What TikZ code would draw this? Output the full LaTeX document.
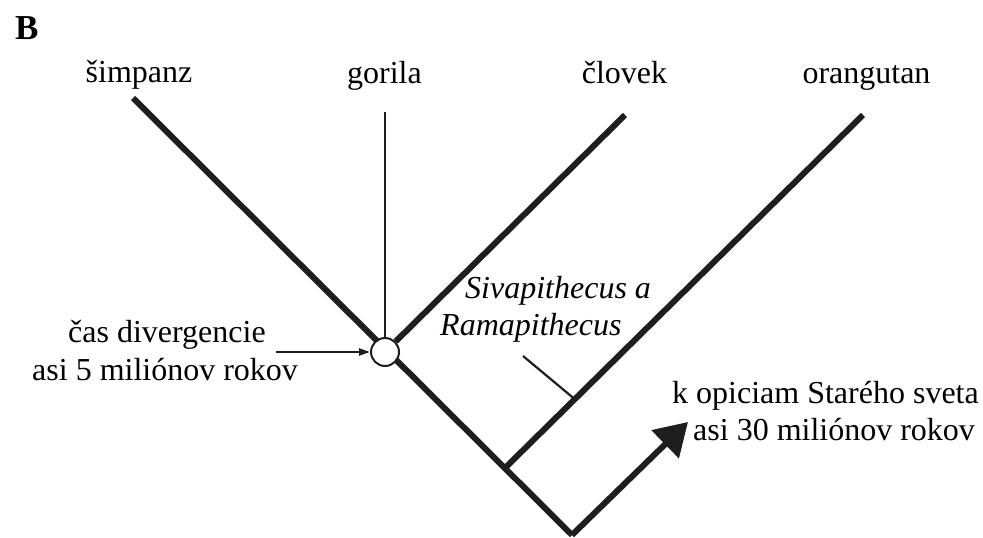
\documentclass[tikz,border=0pt]{standalone}
\usepackage{fontspec}
\setmainfont{Liberation Serif}
\usetikzlibrary{arrows.meta,calc}
\definecolor{ink}{HTML}{1E1E1E}
\tikzset{
  thick line/.style={line width=6pt, draw=ink, line cap=butt},
  thin line/.style={line width=2.2pt, draw=ink},
  lbl/.style={inner sep=0pt, anchor=base, font=\fontsize{32}{38}\selectfont},
  lblw/.style={inner sep=0pt, anchor=base west, font=\fontsize{32}{38}\selectfont},
  ilbl/.style={inner sep=0pt, anchor=base west, font=\fontsize{32}{38}\selectfont\itshape},
}
\begin{document}
\begin{tikzpicture}[x=1pt,y=-1pt]
\useasboundingbox (0,0) rectangle (983,538);
% labels
\node[inner sep=0pt, anchor=base west, font=\fontsize{35}{38}\selectfont\bfseries] (B) at (15,39) {B};
\node[lbl] (sim) at (139,82) {šimpanz};
\node[lbl] (gor) at (384.5,83) {gorila};
\node[lbl] (clo) at (624.5,83) {človek};
\node[lbl] (ora) at (866.5,83) {orangutan};
\node[lblw] (cas1) at (68,342) {čas divergencie};
\node[lblw] (cas2) at (32,380) {asi 5 miliónov rokov};
\node[ilbl] (siv1) at (465,298) {Sivapithecus a};
\node[ilbl] (siv2) at (440,335) {Ramapithecus};
\node[lblw] (opi1) at (672,403) {k opiciam Starého sveta};
\node[lblw] (opi2) at (693,440) {asi 30 miliónov rokov};
% coordinates
\coordinate (simTop) at (133,98);
\coordinate (bot) at (572,535);
\coordinate (gorTop) at (385,112);
\coordinate (cloTop) at (625,115);
\coordinate (oraTop) at (863,115);
\coordinate (oraBase) at (505,468);
\coordinate (tip) at (688,422);
\coordinate (tickStart) at (523,356);
\coordinate (tickEnd) at ($(oraTop)!0.805!(oraBase)$);
\coordinate (casArr) at (276,352);
% tree
\draw[thick line] (simTop) -- (bot);
\draw[thick line] (oraTop) -- (oraBase);
\draw[thick line, -{Triangle[length=32pt,width=38pt]}] (bot) -- (tip);
\node[circle, draw=ink, fill=white, line width=2pt, minimum size=28pt, inner sep=0pt] (div) at (385,352) {};
\draw[thick line] (cloTop) -- (div);
\draw[thin line] (gorTop) -- (div.north);
\draw[thin line] (tickStart) -- (tickEnd);
\draw[thin line, -{Triangle[length=11pt,width=7pt]}] (casArr) -- (div.west);
\end{tikzpicture}
\end{document}
